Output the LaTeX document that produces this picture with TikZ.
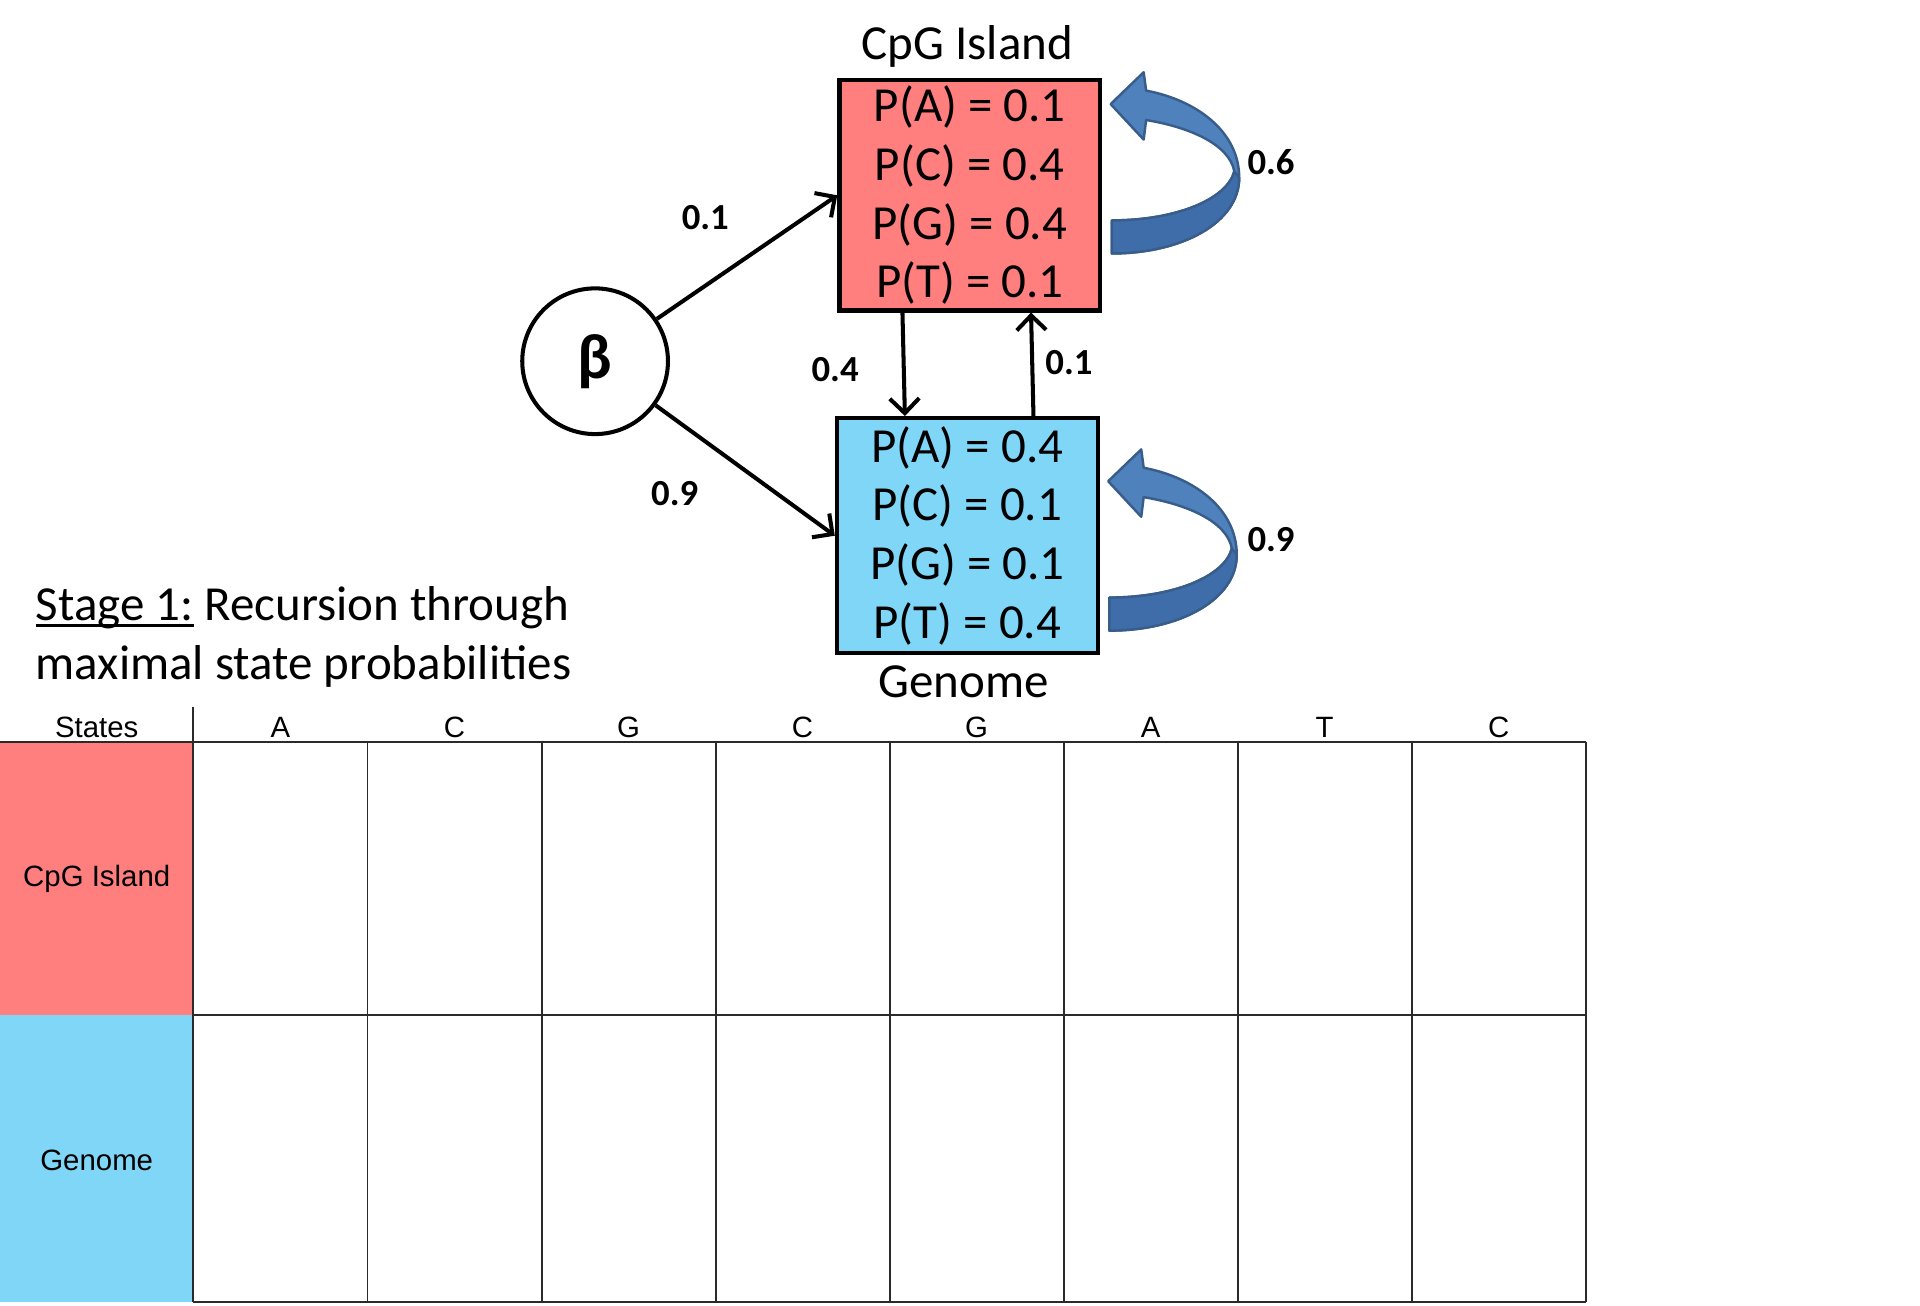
\documentclass[tikz,border=0pt]{standalone}
\usepackage{fontspec}
\setmainfont{Carlito}
\newfontfamily\arialf{Liberation Sans}
\usetikzlibrary{arrows.meta,calc}
\definecolor{cpgred}{HTML}{FF7F7F}
\definecolor{genblue}{HTML}{7FD6F7}
\definecolor{arrblue}{HTML}{4F81BD}
\definecolor{arrdark}{HTML}{3F6DAA}
\definecolor{arredge}{HTML}{385D8A}
\definecolor{gridc}{HTML}{2A2A2A}
\newcommand\myunderline[1]{\setbox0\hbox{#1}\rlap{\rule[-5pt]{\wd0}{2.5pt}}\box0\relax}
\begin{document}
\begin{tikzpicture}[x=1pt,y=-1pt,
  statebox/.style={draw=black,line width=3.5pt,minimum width=213pt,inner sep=0pt,align=center,font=\fontsize{40}{48}\selectfont},
  title/.style={font=\fontsize{40}{48}\selectfont},
  lab/.style={font=\fontsize{30}{30}\selectfont\bfseries},
  arr/.style={line width=3.3pt,-{Straight Barb[length=12pt,width=24pt]}},
  gridline/.style={draw=gridc,line width=1.6pt},
  tabtext/.style={font=\arialf\fontsize{24}{28}\selectfont},
  selfloop/.pic={
    \fill[arrblue,draw=arredge,line width=2pt,line join=round]
      (908,207) .. controls (965,207) and (1012,182) .. (1012,145)
      .. controls (1012,108) and (978,82) .. (936,74)
      -- (934,59) -- (907,85) -- (934,114) -- (936,98)
      .. controls (972,104) and (1004,118) .. (1008,140)
      .. controls (1002,163) and (960,180) .. (908,180) -- cycle;
    \fill[arrdark,draw=arredge,line width=2pt,line join=round]
      (1012,145) .. controls (1012,182) and (965,207) .. (908,207)
      -- (908,180) .. controls (960,180) and (1002,163) .. (1008,140) -- cycle;
  }
]
\useasboundingbox (0,0) rectangle (1568,1066);

% state diagram
\node[statebox,fill=cpgred,minimum height=188pt] (cpg) at (792,159.5)
  {P(A) = 0.1\\P(C) = 0.4\\P(G) = 0.4\\P(T) = 0.1};
\node[statebox,fill=genblue,minimum height=192pt] (gen) at (790,437.5)
  {P(A) = 0.4\\P(C) = 0.1\\P(G) = 0.1\\P(T) = 0.4};
\node[title] (cpgt) at (790,38) {CpG Island};
\node[title] (gent) at (787,557) {Genome};
\node[circle,draw=black,line width=3.3pt,minimum size=119pt,inner sep=0pt,
  font=\fontsize{52}{52}\selectfont\bfseries] (beta) at (486,295) {β};

\draw[arr] (beta) -- (cpg.west);
\draw[arr] (beta) -- (gen.west);
\draw[arr] ([xshift=-55pt]cpg.south) -- ([xshift=-51pt]gen.north);
\draw[arr] ([xshift=54pt]gen.north) -- ([xshift=50pt]cpg.south);

\pic (loopa) at (0,0) {selfloop};
\pic (loopb) at (-2,308) {selfloop};

\node[lab] (l1) at (576,178) {0.1};
\node[lab] (l2) at (551,403) {0.9};
\node[lab] (l3) at (682,302) {0.4};
\node[lab] (l4) at (873,296) {0.1};
\node[lab] (l5) at (1038,132) {0.6};
\node[lab] (l6) at (1038,441) {0.9};

% stage text
\node[title,anchor=base west,inner sep=0pt] (st1) at (29,507) {\myunderline{Stage 1:} Recursion through};
\node[title,anchor=base west,inner sep=0pt] (st2) at (29,555) {maximal state probabilities};

% table
\fill[cpgred] (0,606) rectangle (158,829);
\fill[genblue] (0,829) rectangle (158,1063);
\draw[gridline] (158,577) -- (158,1063);
\draw[gridline] (0,606) -- (1295,606);
\draw[gridline] (158,829) -- (1295,829);
\draw[gridline] (158,1063) -- (1295,1063);
\foreach \k in {1,...,8} {
  \pgfmathsetmacro{\xx}{158+142.125*\k}
  \draw[gridline] (\xx,606) -- (\xx,1063);
}
\node[tabtext] (hs) at (79,594) {States};
\node[tabtext] (rc) at (79,718) {CpG Island};
\node[tabtext] (rg) at (79,948) {Genome};
\foreach \L [count=\k from 0] in {A,C,G,C,G,A,T,C} {
  \pgfmathsetmacro{\xc}{158+142.125*(\k+0.5)}
  \node[tabtext] (h\k) at (\xc,594) {\L};
}
\end{tikzpicture}
\end{document}
